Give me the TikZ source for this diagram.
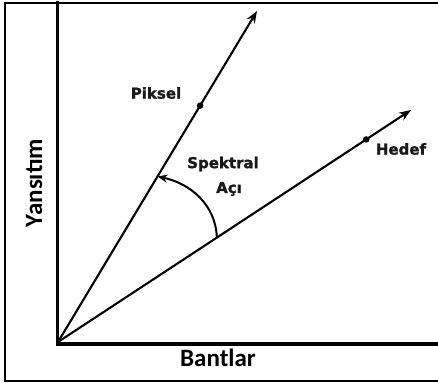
\documentclass[tikz,border=0pt]{standalone}
\usepackage{fontspec}
\usetikzlibrary{arrows.meta,calc}
\newfontfamily\labfont{DejaVu Sans}[FakeBold=1.5]
\newfontfamily\axfont{Carlito}
\begin{document}
\begin{tikzpicture}[x=1pt,y=1pt,
  frame/.style={line width=2.4pt,line cap=rect},
  axis/.style={line width=3.6pt,line cap=rect},
  ray/.style={line width=2.1pt,-{Stealth[length=12pt,width=9pt]}},
  pdot/.style={circle,fill=black,inner sep=0pt,minimum size=6.5pt},
  lab/.style={font=\labfont\bfseries\fontsize{15}{17}\selectfont,text=black!90,inner sep=0pt},
  axlab/.style={font=\axfont\bfseries\fontsize{25}{28}\selectfont,inner sep=0pt}]
\useasboundingbox (0,0) rectangle (438,383);
% outer frame
\draw[frame] (5,2) -- (5,380) -- (440,380);
\draw[frame] (5,2) -- (440,2);
% axes
\coordinate (O) at (58,41);
\draw[axis] (57.5,380) -- (57.5,39) -- (440,39);
% rays
\coordinate (Ptip) at (257,372);
\coordinate (Htip) at (411,273);
\draw[ray] (O) -- (Ptip);
\draw[ray] (O) -- (Htip);
\node[pdot] (Pdot) at ($(O)!0.714!(Ptip)$) {};
\node[pdot] (Hdot) at ($(O)!0.873!(Htip)$) {};
% angle arc
\coordinate (Ha) at ($(O)!0.45!(Htip)$);
\coordinate (Pa) at ($(O)!0.5!(Ptip)$);
\draw[line width=2pt,-{Stealth[length=10pt,width=8pt]}] (Ha) to[out=92,in=-12] (Pa);
% labels
\node[lab] (piksel) at (156,290) {Piksel};
\node[lab] (hedef) at (401,234) {Hedef};
\node[lab] (spek) at (223,219) {Spektral};
\node[lab,anchor=base] (aci) at (229,190) {Açı};
\node[axlab] (bant) at (218,25) {Bantlar};
\node[axlab,rotate=90] (yans) at (34,200) {Yansıtım};
\end{tikzpicture}
\end{document}
